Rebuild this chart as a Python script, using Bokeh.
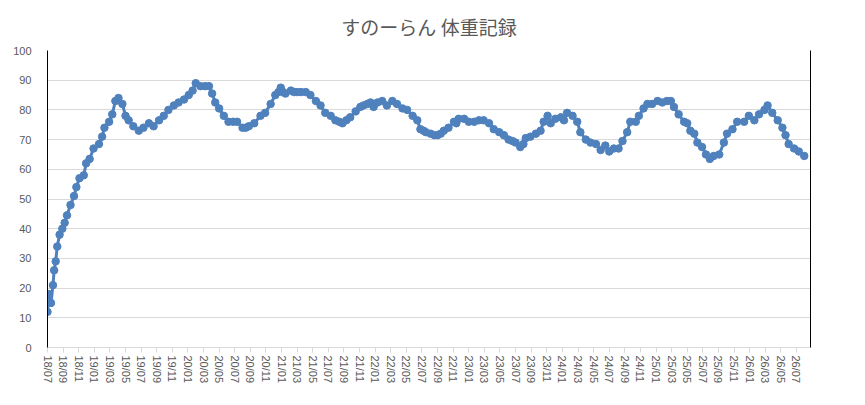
from bokeh.plotting import figure
from bokeh.models import Range1d, FixedTicker, LinearAxis, ColumnDataSource
from bokeh.embed import file_html
from bokeh.resources import INLINE

title_text = "すのーらん 体重記録"

# x: months elapsed since 2018/07 (observation timing), y: weight
month_offset = [
    0.0, 0.2, 0.45, 0.7, 0.85, 1.05, 1.25, 1.55, 1.9, 2.2, 2.5, 2.95, 3.4, 3.7, 4.1, 4.65,
    4.95, 5.4, 5.9, 6.6, 7.0, 7.3, 7.9, 8.3, 8.7, 9.1, 9.6, 10.0, 10.4, 11.0, 11.7, 12.3,
    13.0, 13.6, 14.3, 14.9, 15.5, 16.2, 16.8, 17.5, 18.1, 18.6, 19.0,
    19.6, 20.2, 20.7, 21.1, 21.5, 22.0, 22.6, 23.2, 23.8, 24.3, 25.0, 25.4, 25.8, 26.5,
    27.3, 27.9, 28.6, 29.2, 29.6, 29.9, 30.2, 30.5, 31.2, 31.6, 32.0, 32.5, 33.1, 33.7,
    34.4, 35.0, 35.6, 36.3, 36.9, 37.4, 37.8, 38.3, 38.8,
    39.5, 40.1, 40.5, 41.0, 41.4, 41.8, 42.3, 42.9, 43.5, 44.2, 44.8, 45.5, 46.1, 46.8,
    47.4, 47.8, 48.2, 48.5, 49.1, 49.6, 50.0, 50.4, 50.8, 51.4, 52.1, 52.4, 52.7, 53.4,
    54.0, 54.7, 55.3, 55.9, 56.6, 57.2, 57.9, 58.5, 59.1, 59.6,
    60.0, 60.6, 61.0, 61.3, 61.9, 62.6, 63.2, 63.6, 64.1, 64.5, 65.1, 65.8, 66.2, 66.6,
    67.3, 67.9, 68.3, 69.0, 69.6, 70.3, 70.9, 71.5, 72.0, 72.6, 73.2, 73.7, 74.3, 74.7,
    75.4, 75.8, 76.4, 76.9, 77.5, 78.2, 78.8, 79.4,
    79.9, 80.3, 80.9, 81.6, 82.0, 82.4, 82.9, 83.3, 83.9, 84.4, 84.9, 85.4, 86.1, 86.7,
    87.1, 87.8, 88.4, 89.3, 89.9, 90.6, 91.2, 91.9, 92.3, 92.9, 93.6, 94.2, 94.6, 95.0,
    95.7, 96.3, 97.0,
]
weight = [
    12, 18, 15, 21, 26, 29, 34, 38, 40, 42, 44.5, 48, 51, 54, 57, 58,
    62, 63.5, 67, 68.5, 71, 74, 76, 78.5, 83, 84, 82, 78, 76.5, 74.5, 73, 74,
    75.5, 74.5, 76.5, 78, 80, 81.5, 82.5, 83.5, 85, 86.5, 89,
    88, 88, 88, 85.5, 82.5, 80.5, 78, 76, 76, 76, 74, 74, 74.5, 75.5,
    78, 79, 82, 85, 86, 87.5, 86, 85.5, 86.5, 86, 86, 86, 86, 85,
    83, 81.5, 79, 78, 76.5, 76, 75.5, 76.5, 77.5,
    79.5, 81, 81.5, 82, 82.5, 81, 82.5, 83, 81.5, 83, 82, 80.5, 80, 78,
    76.5, 73.5, 73, 72.5, 72, 71.5, 71.5, 72, 73, 74, 76, 75.5, 77, 77,
    76, 76, 76.5, 76.5, 75.5, 73.5, 72.5, 71.5, 70, 69.5,
    69, 67.5, 68.5, 70.5, 71, 72, 73, 76, 78, 75.5, 77, 77.5, 76.5, 79,
    78, 76, 72.5, 70, 69, 68.5, 66.5, 68, 66, 67, 67, 69.5, 72.5, 76,
    76, 78, 80.5, 82, 82, 83, 82.5, 83,
    83, 81, 78.5, 76, 75.5, 73, 72, 69, 67.5, 65, 63.5, 64.5, 65, 69,
    72, 73.5, 76, 76, 78, 76.5, 78.5, 80, 81.5, 79, 76.5, 74, 71.5, 68.5,
    67, 66, 64.5,
]

tick_positions = list(range(0, 97, 2))
tick_labels = [f"{(18 + (6 + m) // 12):02d}/{((6 + m) % 12) + 1:02d}" for m in tick_positions]
y_ticks = list(range(0, 101, 10))

src = ColumnDataSource(data=dict(x=month_offset, y=weight))

p = figure(
    frame_width=763, frame_height=297,
    min_border_left=47, min_border_right=39, min_border_top=50, min_border_bottom=42,
    x_range=Range1d(0, 97.8), y_range=Range1d(0, 100),
    output_backend="svg", toolbar_location=None,
    background_fill_color="white", border_fill_color="white",
)
p.outline_line_color = None

p.title.text = title_text
p.title.align = "center"
p.title.text_font = "Noto Sans CJK JP"
p.title.text_font_size = "19px"
p.title.text_font_style = "normal"
p.title.text_color = "#595959"
p.title.standoff = 21

p.line("x", "y", source=src, line_color="#4f81bd", line_width=3)
p.scatter("x", "y", source=src, size=7.5, fill_color="#4f81bd", line_color="#4f81bd")

# grid
p.xgrid.visible = False
p.ygrid.ticker = FixedTicker(ticks=y_ticks)
p.ygrid.grid_line_color = "#d9d9d9"
p.ygrid.grid_line_width = 1

# x axis
xa = p.xaxis[0]
xa.ticker = FixedTicker(ticks=tick_positions)
xa.major_label_overrides = {t: lab for t, lab in zip(tick_positions, tick_labels)}
xa.major_label_orientation = "vertical"
xa.axis_line_color = "#d9d9d9"
xa.major_tick_line_color = "#d9d9d9"
xa.major_tick_in = 0
xa.major_tick_out = 5
xa.minor_tick_line_color = None
xa.major_label_standoff = 3
xa.major_label_text_font = "Liberation Sans"
xa.major_label_text_font_size = "11px"
xa.major_label_text_color = "#595959"

# y axis
ya = p.yaxis[0]
ya.ticker = FixedTicker(ticks=y_ticks)
ya.axis_line_color = "black"
ya.axis_line_width = 1
ya.major_tick_line_color = None
ya.minor_tick_line_color = None
ya.major_label_standoff = 10
ya.major_label_text_font = "Liberation Sans"
ya.major_label_text_font_size = "11px"
ya.major_label_text_color = "#595959"

# right border line
ra = LinearAxis(ticker=FixedTicker(ticks=[]))
ra.axis_line_color = "black"
ra.major_tick_line_color = None
ra.minor_tick_line_color = None
ra.major_label_text_font_size = "0px"
p.add_layout(ra, "right")

open("out.html", "w").write(file_html(p, INLINE))
